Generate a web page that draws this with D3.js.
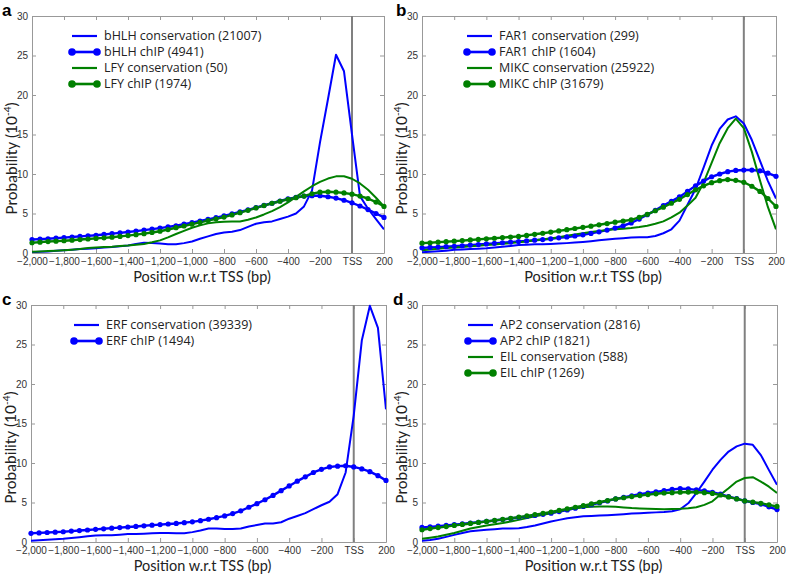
<!DOCTYPE html>
<html><head><meta charset="utf-8">
<script src="https://cdn.jsdelivr.net/npm/d3@7/dist/d3.min.js"></script>
<style>body{margin:0;background:#fff}svg{display:block}</style>
</head><body><svg id="chart" width="787" height="576"></svg>
<script>
// ---------- data ----------
const positions = [-2000,-1950,-1900,-1850,-1800,-1750,-1700,-1650,-1600,-1550,-1500,-1450,-1400,-1350,-1300,-1250,-1200,-1150,-1100,-1050,-1000,-950,-900,-850,-800,-750,-700,-650,-600,-550,-500,-450,-400,-350,-300,-250,-200,-150,-100,-50,0,50,100,150,200];
const xTickValues = [-2000,-1800,-1600,-1400,-1200,-1000,-800,-600,-400,-200,0,200];
const xTickLabels = ["\u22122,000","\u22121,800","\u22121,600","\u22121,400","\u22121,200","\u22121,000","\u2212800","\u2212600","\u2212400","\u2212200","TSS","200"];
const yTickValues = [0,5,10,15,20,25,30];

// panel a
const bHLH_cons = [0.10,0.15,0.20,0.28,0.35,0.42,0.50,0.55,0.60,0.68,0.75,0.85,0.95,1.15,1.30,1.28,1.20,1.12,1.10,1.25,1.45,1.80,2.10,2.40,2.60,2.70,2.90,3.30,3.70,3.90,4.00,4.30,4.60,5.00,5.90,7.90,14.0,19.5,25.1,23.0,15.0,7.20,5.60,4.30,3.00];
const bHLH_chip = [1.70,1.75,1.80,1.88,1.95,2.02,2.10,2.17,2.25,2.35,2.45,2.55,2.65,2.77,2.90,3.02,3.15,3.30,3.45,3.65,3.85,4.05,4.25,4.47,4.70,4.95,5.20,5.47,5.75,6.02,6.30,6.58,6.85,7.05,7.20,7.25,7.25,7.12,6.95,6.68,6.35,5.95,5.50,5.00,4.50];
const LFY_cons = [0.15,0.20,0.25,0.30,0.35,0.42,0.50,0.62,0.70,0.75,0.80,0.88,0.95,1.05,1.15,1.35,1.60,1.98,2.40,2.80,3.20,3.50,3.75,3.88,3.95,3.98,4.00,4.20,4.50,4.88,5.30,5.82,6.40,7.10,7.80,8.45,9.00,9.42,9.70,9.72,9.40,8.80,8.00,7.00,5.90];
const LFY_chip = [1.30,1.37,1.45,1.50,1.55,1.62,1.70,1.77,1.85,1.92,2.00,2.10,2.20,2.32,2.45,2.60,2.75,2.97,3.20,3.42,3.65,3.87,4.10,4.32,4.55,4.82,5.10,5.40,5.70,6.00,6.30,6.55,6.80,7.00,7.20,7.50,7.70,7.75,7.70,7.60,7.45,7.20,6.90,6.45,5.90];
// panel b
const FAR1_cons = [0.10,0.15,0.22,0.30,0.40,0.45,0.50,0.55,0.60,0.70,0.80,0.90,1.00,1.05,1.10,1.12,1.15,1.20,1.25,1.32,1.40,1.50,1.60,1.70,1.80,1.88,1.95,1.98,2.00,2.15,2.50,3.00,4.10,6.10,8.10,10.8,13.6,15.7,16.9,17.3,16.4,14.3,11.7,9.10,6.90];
const FAR1_chip = [0.65,0.70,0.75,0.80,0.85,0.92,1.00,1.07,1.15,1.22,1.30,1.37,1.45,1.53,1.62,1.70,1.80,1.92,2.03,2.15,2.30,2.48,2.68,2.90,3.15,3.45,3.80,4.30,4.85,5.40,6.00,6.55,7.10,7.80,8.50,9.10,9.65,10.0,10.3,10.45,10.5,10.5,10.4,10.1,9.70];
const MIKC_cons = [0.35,0.45,0.53,0.62,0.70,0.77,0.85,0.92,1.00,1.08,1.17,1.25,1.35,1.47,1.60,1.72,1.85,2.00,2.17,2.33,2.50,2.65,2.80,2.90,3.00,3.08,3.15,3.28,3.45,3.70,4.00,4.50,5.10,6.00,7.00,8.90,11.4,13.9,15.8,17.0,15.8,12.8,9.20,5.80,3.00];
const MIKC_chip = [1.25,1.30,1.37,1.43,1.50,1.57,1.65,1.72,1.80,1.87,1.95,2.02,2.10,2.23,2.37,2.50,2.65,2.80,2.95,3.10,3.25,3.40,3.57,3.73,3.90,4.05,4.20,4.52,4.90,5.35,5.80,6.30,6.80,7.40,8.00,8.50,8.90,9.15,9.30,9.20,8.95,8.45,7.80,6.90,5.90];
// panel c
const ERF_cons = [0.15,0.22,0.30,0.35,0.40,0.50,0.60,0.72,0.82,0.85,0.85,0.92,1.00,1.02,1.05,1.10,1.15,1.15,1.10,1.10,1.25,1.45,1.70,1.72,1.65,1.65,1.70,1.95,2.15,2.35,2.35,2.50,2.95,3.30,3.65,4.15,4.65,5.10,6.05,8.80,16.0,25.5,29.9,27.1,16.8];
const ERF_chip = [1.10,1.15,1.20,1.25,1.30,1.38,1.45,1.52,1.60,1.67,1.75,1.82,1.90,1.97,2.05,2.13,2.20,2.28,2.35,2.45,2.55,2.70,2.88,3.08,3.30,3.60,3.95,4.40,4.85,5.35,5.90,6.50,7.10,7.70,8.25,8.80,9.20,9.50,9.60,9.65,9.50,9.25,8.90,8.40,7.80];
// panel d
const AP2_cons = [0.15,0.25,0.40,0.65,0.90,1.15,1.35,1.45,1.55,1.62,1.70,1.72,1.75,1.90,2.10,2.35,2.60,2.80,3.00,3.12,3.25,3.30,3.35,3.40,3.45,3.52,3.60,3.65,3.70,3.75,3.80,3.90,4.15,4.90,6.20,7.65,9.15,10.4,11.45,12.1,12.45,12.3,11.0,9.10,7.25];
const AP2_chip = [1.85,1.92,2.00,2.10,2.20,2.30,2.40,2.50,2.60,2.72,2.85,2.97,3.10,3.23,3.37,3.50,3.65,3.85,4.05,4.28,4.50,4.73,4.97,5.20,5.45,5.65,5.85,6.05,6.20,6.35,6.50,6.65,6.75,6.72,6.60,6.47,6.30,6.05,5.75,5.48,5.20,5.00,4.80,4.45,4.10];
const EIL_cons = [0.40,0.55,0.70,0.92,1.15,1.42,1.70,1.90,2.10,2.25,2.40,2.60,2.80,3.02,3.25,3.45,3.65,3.88,4.10,4.25,4.40,4.45,4.50,4.48,4.45,4.38,4.30,4.25,4.20,4.17,4.15,4.17,4.20,4.28,4.40,4.70,5.15,6.00,6.80,7.65,8.10,8.20,7.65,7.00,6.20];
const EIL_chip = [1.55,1.70,1.82,1.95,2.10,2.22,2.35,2.48,2.60,2.73,2.87,3.00,3.15,3.30,3.47,3.63,3.80,4.00,4.20,4.40,4.60,4.82,5.03,5.25,5.45,5.60,5.75,5.88,6.00,6.10,6.20,6.25,6.30,6.32,6.30,6.25,6.15,5.95,5.70,5.45,5.20,5.05,4.90,4.70,4.50];

const BLUE = "#0000ff", GREEN = "#008000";
const panels = [
  {letter:"a", left:32, right:384, top:16, bottom:253, lx:40, ly:-30, series:[
    {name:"bHLH conservation (21007)", values:bHLH_cons, color:BLUE, chip:false},
    {name:"bHLH chIP (4941)", values:bHLH_chip, color:BLUE, chip:true},
    {name:"LFY conservation (50)", values:LFY_cons, color:GREEN, chip:false},
    {name:"LFY chIP (1974)", values:LFY_chip, color:GREEN, chip:true}]},
  {letter:"b", left:422, right:776, top:16, bottom:253, lx:45, ly:-26, series:[
    {name:"FAR1 conservation (299)", values:FAR1_cons, color:BLUE, chip:false},
    {name:"FAR1 chIP (1604)", values:FAR1_chip, color:BLUE, chip:true},
    {name:"MIKC conservation (25922)", values:MIKC_cons, color:GREEN, chip:false},
    {name:"MIKC chIP (31679)", values:MIKC_chip, color:GREEN, chip:true}]},
  {letter:"c", left:31, right:386, top:305, bottom:542, lx:43, ly:-29, series:[
    {name:"ERF conservation (39339)", values:ERF_cons, color:BLUE, chip:false},
    {name:"ERF chIP (1494)", values:ERF_chip, color:BLUE, chip:true}]},
  {letter:"d", left:422, right:777, top:305, bottom:542, lx:46, ly:-29, series:[
    {name:"AP2 conservation (2816)", values:AP2_cons, color:BLUE, chip:false},
    {name:"AP2 chIP (1821)", values:AP2_chip, color:BLUE, chip:true},
    {name:"EIL conservation (588)", values:EIL_cons, color:GREEN, chip:false},
    {name:"EIL chIP (1269)", values:EIL_chip, color:GREEN, chip:true}]}
];

const svg = d3.select("#chart");
const TICKF = "'Liberation Sans', Arial, sans-serif";
const TITLEF = "'Open Sans', 'Noto Sans', sans-serif";
const AXTF = "Lato, 'Open Sans', sans-serif";
const AX = "#999";

panels.forEach(p => {
  const x = d3.scaleLinear().domain([-2000, 200]).range([p.left, p.right]);
  const y = d3.scaleLinear().domain([0, 30]).range([p.bottom, p.top]);
  const g = svg.append("g");
  const W = p.right - p.left, H = p.bottom - p.top;

  const fmt = (d) => xTickLabels[xTickValues.indexOf(d)];
  const bottom = g.append("g").attr("transform", `translate(0,${p.bottom})`)
    .call(d3.axisBottom(x).tickValues(xTickValues).tickFormat(fmt).tickSizeInner(-4).tickSizeOuter(0).tickPadding(5));
  const top = g.append("g").attr("transform", `translate(0,${p.top})`)
    .call(d3.axisTop(x).tickValues(xTickValues).tickFormat("").tickSizeInner(-4).tickSizeOuter(0));
  const left = g.append("g").attr("transform", `translate(${p.left},0)`)
    .call(d3.axisLeft(y).tickValues(yTickValues).tickSizeInner(-4).tickSizeOuter(0).tickPadding(4));
  const right = g.append("g").attr("transform", `translate(${p.right},0)`)
    .call(d3.axisRight(y).tickValues(yTickValues).tickFormat("").tickSizeInner(-4).tickSizeOuter(0));
  [bottom, top, left, right].forEach(a => {
    a.select(".domain").attr("stroke", AX);
    a.selectAll(".tick line").attr("stroke", AX);
    a.selectAll("text").attr("font-family", TICKF).attr("font-size", 10).attr("fill", "#333");
  });

  g.append("line").attr("x1", x(0)).attr("x2", x(0)).attr("y1", p.top).attr("y2", p.bottom)
    .attr("stroke", "#808080").attr("stroke-width", 2);

  const cid = "clip" + p.letter;
  svg.append("clipPath").attr("id", cid).append("rect")
    .attr("x", p.left).attr("y", p.top - 1).attr("width", W).attr("height", H + 1);
  const plot = g.append("g").attr("clip-path", `url(#${cid})`);
  const line = d3.line().x((d, i) => x(positions[i])).y(d => y(d));

  p.series.forEach(s => {
    plot.append("path").datum(s.values).attr("d", line).attr("fill", "none")
      .attr("stroke", s.color).attr("stroke-width", s.chip ? 2.4 : 2).attr("stroke-linejoin", "round");
    if (s.chip) {
      g.append("g").selectAll("circle").data(s.values).join("circle")
        .attr("cx", (d, i) => x(positions[i])).attr("cy", d => y(d)).attr("r", 2.6)
        .attr("fill", s.color);
    }
  });

  const lg = g.append("g");
  p.series.forEach((s, i) => {
    const yy = p.top + 20 + i * 16;
    const x0 = p.left + p.lx, x1 = x0 + 25;
    lg.append("line").attr("x1", x0).attr("x2", x1).attr("y1", yy).attr("y2", yy)
      .attr("stroke", s.color).attr("stroke-width", s.chip ? 2.6 : 2.2);
    if (s.chip) {
      [x0, x1].forEach(cx => lg.append("circle").attr("cx", cx).attr("cy", yy).attr("r", 3.8).attr("fill", s.color));
    }
    lg.append("text").attr("x", x1 + 7).attr("y", yy).attr("dy", "0.35em")
      .attr("font-family", TITLEF).attr("font-size", 12.5).attr("fill", "#222").text(s.name);
  });

  g.append("text").attr("x", (p.left + p.right) / 2 - 6).attr("y", p.bottom + 29)
    .attr("text-anchor", "middle").attr("font-family", AXTF).attr("font-size", 14.5).attr("fill", "#222")
    .text("Position w.r.t TSS (bp)");
  const yt = g.append("text").attr("transform", `translate(${p.left - 15},${(p.top + p.bottom) / 2 + 24}) rotate(-90)`)
    .attr("text-anchor", "middle").attr("font-family", AXTF).attr("font-size", 15.5).attr("fill", "#222");
  yt.append("tspan").text("Probability (10");
  yt.append("tspan").attr("font-size", 10).attr("dy", -6).text("-4");
  yt.append("tspan").attr("dy", 6).text(")");

  g.append("text").attr("x", p.left + p.ly).attr("y", p.top)
    .attr("font-family", "'Liberation Sans', Arial, sans-serif").attr("font-weight", "bold").attr("font-size", 17)
    .attr("fill", "#000").text(p.letter);
});
</script></body></html>
